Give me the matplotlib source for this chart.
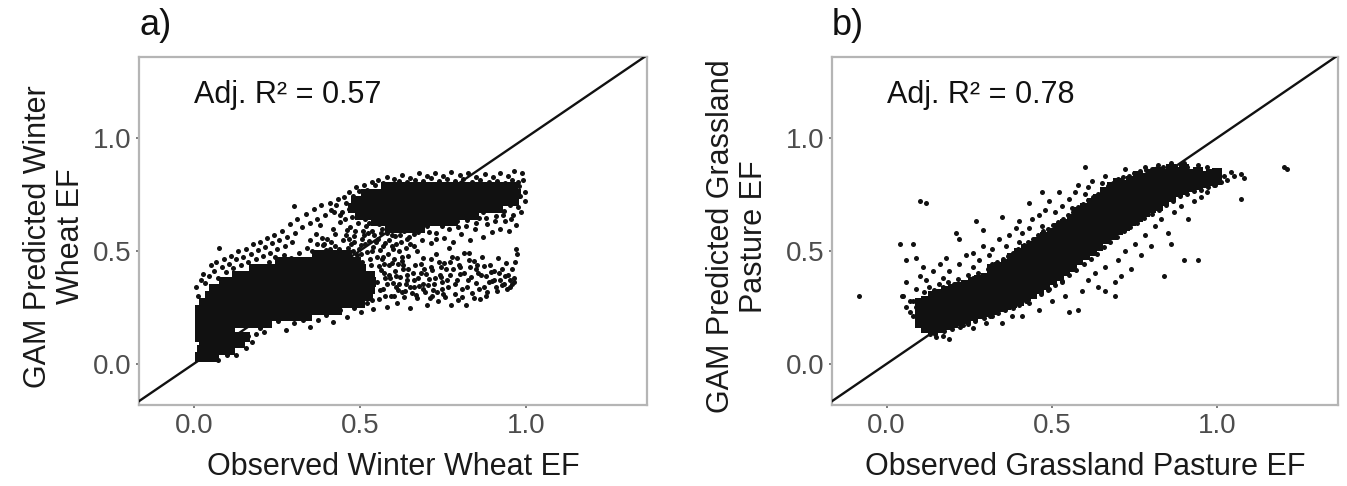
import matplotlib
matplotlib.use("Agg")
import matplotlib.pyplot as plt
import numpy as np

plt.rcParams['font.family'] = ['Liberation Sans', 'DejaVu Sans']

# ---- data (observed EF, GAM predicted EF) ----
# dense parts of the clouds, one row of observed values per predicted level
wheat_core_rows = [
    (0.03, [0.02, 0.04, 0.06]),
    (0.06, [0.025, 0.045, 0.07, 0.09, 0.11]),
    (0.09, [0.03, 0.055, 0.075, 0.10, 0.12, 0.14]),
    (0.12, [0.02, 0.04, 0.065, 0.09, 0.11, 0.135, 0.155]),
    (0.15, [0.02, 0.045, 0.065, 0.085, 0.11]),
    (0.18, [0.02, 0.04, 0.06, 0.085, 0.11, 0.13, 0.15, 0.175, 0.20, 0.22]),
    (0.21, [0.02, 0.04, 0.065, 0.09, 0.11, 0.13, 0.155, 0.18, 0.20, 0.22, 0.245,
            0.27, 0.29, 0.315, 0.34]),
    (0.24, [0.02, 0.045, 0.07, 0.09, 0.11, 0.135, 0.16, 0.18, 0.20, 0.225, 0.25,
            0.27, 0.29, 0.315, 0.34, 0.36, 0.38, 0.405, 0.43]),
    (0.27, [0.03, 0.05, 0.075, 0.10, 0.12, 0.14, 0.165, 0.19, 0.21, 0.23, 0.255,
            0.28, 0.30, 0.32, 0.345, 0.37, 0.39, 0.41, 0.435, 0.46, 0.48, 0.50]),
    (0.30, [0.05, 0.07, 0.095, 0.12, 0.14, 0.16, 0.185, 0.21, 0.23, 0.25, 0.275,
            0.30, 0.32, 0.34, 0.365, 0.39, 0.41, 0.43, 0.455, 0.48, 0.50, 0.525]),
    (0.33, [0.06, 0.085, 0.11, 0.13, 0.155, 0.18, 0.205, 0.23, 0.25, 0.27, 0.295,
            0.32, 0.34, 0.36, 0.385, 0.41, 0.43, 0.45, 0.475, 0.50, 0.53]),
    (0.36, [0.09, 0.115, 0.14, 0.165, 0.19, 0.21, 0.235, 0.26, 0.28, 0.30, 0.325,
            0.35, 0.37, 0.39, 0.415, 0.44, 0.46, 0.485, 0.51, 0.535]),
    (0.39, [0.13, 0.155, 0.18, 0.205, 0.23, 0.25, 0.275, 0.30, 0.32, 0.34, 0.365,
            0.39, 0.41, 0.435, 0.46, 0.485, 0.51, 0.53]),
    (0.42, [0.18, 0.205, 0.23, 0.25, 0.27, 0.29, 0.315, 0.34, 0.36, 0.385, 0.41,
            0.435, 0.46, 0.48, 0.505]),
    (0.45, [0.26, 0.29, 0.315, 0.34, 0.365, 0.39, 0.415, 0.44, 0.465, 0.49]),
    (0.48, [0.37, 0.40, 0.43, 0.46]),
    (0.60, [0.59, 0.62, 0.65, 0.68]),
    (0.63, [0.55, 0.575, 0.60, 0.625, 0.65, 0.675, 0.70, 0.725, 0.75, 0.78]),
    (0.66, [0.50, 0.525, 0.55, 0.57, 0.59, 0.615, 0.64, 0.66, 0.68, 0.705,
            0.73, 0.75, 0.77, 0.795, 0.82, 0.845]),
    (0.69, [0.48, 0.505, 0.53, 0.55, 0.57, 0.595, 0.62, 0.64, 0.66, 0.685,
            0.71, 0.73, 0.75, 0.775, 0.80, 0.82, 0.84, 0.865, 0.89, 0.915]),
    (0.72, [0.49, 0.515, 0.54, 0.56, 0.58, 0.605, 0.63, 0.65, 0.67, 0.695,
            0.72, 0.74, 0.76, 0.785, 0.81, 0.83, 0.85, 0.875, 0.90, 0.92, 0.945, 0.965]),
    (0.75, [0.52, 0.545, 0.57, 0.59, 0.61, 0.635, 0.66, 0.68, 0.70, 0.725,
            0.75, 0.77, 0.79, 0.815, 0.84, 0.86, 0.88, 0.905, 0.93, 0.95, 0.97]),
    (0.78, [0.58, 0.605, 0.63, 0.65, 0.67, 0.695, 0.72, 0.74, 0.765,
            0.79, 0.81, 0.835, 0.86, 0.885, 0.91, 0.935, 0.96]),
]

wheat_sparse = [
    # upper fringe of the lower cloud
    (0.008, 0.342), (0.013, 0.301), (0.021, 0.372), (0.029, 0.398), (0.034, 0.356),
    (0.047, 0.387), (0.052, 0.436), (0.061, 0.409), (0.068, 0.452), (0.073, 0.381),
    (0.076, 0.512), (0.084, 0.428), (0.092, 0.463), (0.097, 0.404), (0.106, 0.441),
    (0.113, 0.479), (0.118, 0.422), (0.127, 0.462), (0.133, 0.498), (0.141, 0.437),
    (0.148, 0.474), (0.156, 0.509), (0.162, 0.451), (0.171, 0.487), (0.177, 0.528),
    (0.186, 0.463), (0.193, 0.503), (0.199, 0.541), (0.208, 0.478), (0.214, 0.518),
    (0.222, 0.556), (0.229, 0.492), (0.236, 0.533), (0.243, 0.571), (0.251, 0.507),
    (0.258, 0.548), (0.266, 0.589), (0.274, 0.521), (0.281, 0.562), (0.289, 0.618),
    (0.296, 0.537), (0.304, 0.577), (0.301, 0.696), (0.312, 0.641), (0.327, 0.603),
    (0.338, 0.662), (0.349, 0.621), (0.362, 0.684), (0.371, 0.642), (0.384, 0.703),
    (0.396, 0.658), (0.409, 0.713), (0.421, 0.672), (0.433, 0.728),
    (0.317, 0.492), (0.342, 0.511), (0.366, 0.483), (0.388, 0.527), (0.411, 0.508),
    (0.246, 0.472), (0.271, 0.481), (0.292, 0.468), (0.226, 0.451),
    # bridge between the two clouds
    (0.452, 0.463), (0.458, 0.571), (0.463, 0.512), (0.471, 0.604), (0.474, 0.447),
    (0.482, 0.538), (0.487, 0.588), (0.491, 0.481), (0.496, 0.624), (0.503, 0.527),
    (0.507, 0.452), (0.512, 0.571), (0.518, 0.609), (0.521, 0.494), (0.527, 0.543),
    (0.533, 0.437), (0.536, 0.587), (0.541, 0.516), (0.547, 0.631), (0.552, 0.472),
    (0.556, 0.553), (0.561, 0.503), (0.566, 0.598), (0.572, 0.441), (0.575, 0.534),
    (0.581, 0.577), (0.586, 0.486), (0.592, 0.616), (0.597, 0.523), (0.603, 0.462),
    (0.607, 0.566), (0.612, 0.602), (0.618, 0.497), (0.623, 0.541), (0.629, 0.435),
    (0.634, 0.586), (0.638, 0.514), (0.645, 0.476), (0.649, 0.559), (0.653, 0.601),
    (0.402, 0.551), (0.418, 0.597), (0.426, 0.523), (0.439, 0.628), (0.447, 0.671),
    (0.367, 0.573), (0.381, 0.612), (0.392, 0.531), (0.351, 0.548), (0.455, 0.642),
    (0.468, 0.553), (0.479, 0.501), (0.509, 0.588), (0.529, 0.624), (0.544, 0.568),
    (0.558, 0.617), (0.569, 0.474), (0.589, 0.547), (0.601, 0.508), (0.621, 0.572),
    (0.356, 0.497), (0.372, 0.528), (0.386, 0.556), (0.397, 0.502), (0.413, 0.541),
    (0.424, 0.574), (0.436, 0.509), (0.448, 0.548), (0.461, 0.593), (0.473, 0.529),
    (0.484, 0.566), (0.497, 0.508), (0.506, 0.552), (0.517, 0.531), (0.524, 0.578),
    (0.538, 0.498), (0.549, 0.541), (0.563, 0.578), (0.571, 0.519), (0.584, 0.603),
    (0.596, 0.571), (0.609, 0.532), (0.617, 0.627), (0.628, 0.598), (0.641, 0.551),
    (0.652, 0.532), (0.626, 0.474), (0.597, 0.446), (0.559, 0.432), (0.532, 0.462),
    (0.505, 0.486), (0.486, 0.462), (0.459, 0.487), (0.428, 0.492),
    # lower right, spreading out
    (0.553, 0.362), (0.559, 0.286), (0.564, 0.413), (0.571, 0.331), (0.577, 0.379),
    (0.583, 0.251), (0.588, 0.436), (0.594, 0.302), (0.599, 0.356), (0.605, 0.412),
    (0.611, 0.268), (0.616, 0.327), (0.622, 0.384), (0.627, 0.457), (0.633, 0.296),
    (0.639, 0.351), (0.644, 0.418), (0.651, 0.246), (0.656, 0.313), (0.662, 0.372),
    (0.667, 0.437), (0.673, 0.289), (0.678, 0.346), (0.684, 0.403), (0.689, 0.468),
    (0.695, 0.318), (0.702, 0.262), (0.707, 0.374), (0.713, 0.427), (0.718, 0.301),
    (0.724, 0.352), (0.731, 0.486), (0.736, 0.276), (0.741, 0.392), (0.747, 0.331),
    (0.753, 0.446), (0.758, 0.297), (0.764, 0.371), (0.769, 0.514), (0.775, 0.258),
    (0.781, 0.418), (0.786, 0.352), (0.792, 0.467), (0.797, 0.284), (0.803, 0.396),
    (0.809, 0.333), (0.814, 0.488), (0.821, 0.261), (0.826, 0.372), (0.832, 0.429),
    (0.838, 0.312), (0.843, 0.457), (0.849, 0.357), (0.856, 0.401), (0.862, 0.288),
    (0.867, 0.473), (0.873, 0.341), (0.879, 0.387), (0.884, 0.318), (0.891, 0.436),
    (0.897, 0.367), (0.903, 0.412), (0.909, 0.339), (0.916, 0.468), (0.922, 0.371),
    (0.928, 0.418), (0.934, 0.352), (0.941, 0.447), (0.947, 0.392), (0.953, 0.339),
    (0.958, 0.421), (0.963, 0.381), (0.966, 0.362), (0.971, 0.508), (0.974, 0.486),
    (0.968, 0.452), (0.566, 0.462), (0.587, 0.391), (0.614, 0.443), (0.642, 0.392),
    (0.671, 0.497), (0.693, 0.421), (0.716, 0.462), (0.744, 0.427), (0.772, 0.451),
    (0.799, 0.437), (0.829, 0.489), (0.852, 0.437), (0.577, 0.302), (0.608, 0.341),
    (0.636, 0.321), (0.664, 0.341), (0.691, 0.353), (0.721, 0.327), (0.749, 0.363),
    (0.561, 0.327), (0.572, 0.402), (0.581, 0.352), (0.592, 0.381), (0.603, 0.298),
    (0.609, 0.387), (0.618, 0.352), (0.626, 0.318), (0.631, 0.421), (0.643, 0.372),
    (0.652, 0.339), (0.659, 0.402), (0.668, 0.306), (0.676, 0.381), (0.683, 0.441),
    (0.691, 0.332), (0.698, 0.398), (0.706, 0.349), (0.712, 0.291), (0.719, 0.413),
    (0.727, 0.378), (0.733, 0.318), (0.739, 0.452), (0.746, 0.386), (0.752, 0.307),
    (0.759, 0.421), (0.766, 0.338), (0.773, 0.392), (0.779, 0.471), (0.787, 0.311),
    (0.794, 0.369), (0.801, 0.428), (0.808, 0.297), (0.815, 0.402), (0.822, 0.341),
    (0.829, 0.461), (0.836, 0.382), (0.844, 0.291), (0.851, 0.418), (0.858, 0.331),
    (0.866, 0.392), (0.874, 0.432), (0.881, 0.298), (0.888, 0.361), (0.896, 0.408),
    (0.904, 0.372), (0.912, 0.321), (0.919, 0.401), (0.927, 0.347), (0.936, 0.389),
    (0.944, 0.331), (0.951, 0.372), (0.959, 0.351),
    # between the upper cloud and the lower right
    (0.662, 0.522), (0.676, 0.583), (0.688, 0.547), (0.703, 0.611), (0.716, 0.534),
    (0.729, 0.578), (0.742, 0.621), (0.755, 0.556), (0.768, 0.598), (0.782, 0.537),
    (0.794, 0.632), (0.806, 0.574), (0.819, 0.611), (0.833, 0.548), (0.846, 0.596),
    (0.858, 0.643), (0.871, 0.561), (0.884, 0.617), (0.897, 0.582), (0.909, 0.655),
    (0.921, 0.597), (0.936, 0.631), (0.948, 0.588), (0.961, 0.657), (0.972, 0.612),
    (0.872, 0.671), (0.903, 0.684), (0.934, 0.676), (0.952, 0.702), (0.978, 0.693),
    (0.747, 0.611), (0.771, 0.631), (0.797, 0.603), (0.823, 0.638), (0.851, 0.621),
    (0.879, 0.646), (0.907, 0.632), (0.931, 0.658), (0.956, 0.641), (0.683, 0.597),
    (0.708, 0.582), (0.731, 0.553), (0.692, 0.621), (0.664, 0.574),
    # lower edge of the lower cloud and the strip along the 1:1 line
    (0.198, 0.157), (0.226, 0.171), (0.254, 0.188), (0.279, 0.149), (0.302, 0.181),
    (0.328, 0.196), (0.351, 0.162), (0.373, 0.192), (0.397, 0.216), (0.418, 0.183),
    (0.441, 0.236), (0.462, 0.207), (0.483, 0.246), (0.504, 0.229), (0.523, 0.268),
    (0.541, 0.241), (0.128, 0.041), (0.157, 0.068), (0.176, 0.097), (0.072, 0.018),
    (0.101, 0.037), (0.164, 0.123), (0.187, 0.132), (0.212, 0.141), (0.452, 0.262),
    (0.471, 0.277), (0.497, 0.262), (0.512, 0.301), (0.536, 0.282),
    # top edge of the upper cloud and the column near 1.0
    (0.452, 0.738), (0.467, 0.762), (0.488, 0.781), (0.512, 0.792), (0.537, 0.806),
    (0.556, 0.814), (0.581, 0.826), (0.603, 0.817), (0.628, 0.834), (0.652, 0.822),
    (0.678, 0.846), (0.703, 0.831), (0.727, 0.843), (0.752, 0.829), (0.776, 0.848),
    (0.801, 0.834), (0.826, 0.846), (0.851, 0.828), (0.876, 0.841), (0.902, 0.826),
    (0.921, 0.843), (0.946, 0.831), (0.963, 0.852), (0.988, 0.846), (0.992, 0.812),
    (0.981, 0.787), (0.997, 0.762), (0.984, 0.741), (0.998, 0.718), (0.987, 0.672),
    (0.964, 0.762), (0.958, 0.728), (0.515, 0.642), (0.531, 0.661), (0.478, 0.648),
    (0.412, 0.682), (0.428, 0.703), (0.441, 0.659), (0.457, 0.711), (0.469, 0.683),
    (0.481, 0.742), (0.497, 0.764), (0.523, 0.771), (0.547, 0.789), (0.569, 0.801),
    (0.592, 0.796), (0.617, 0.809), (0.641, 0.803), (0.665, 0.812), (0.691, 0.807),
    (0.714, 0.821), (0.739, 0.808), (0.762, 0.816), (0.787, 0.808), (0.812, 0.819),
    (0.838, 0.806), (0.862, 0.811), (0.889, 0.802), (0.913, 0.809), (0.938, 0.801),
    (0.957, 0.812), (0.976, 0.803),
]

# grassland: dense band, one column of predicted values per observed level
grass_core_cols = [
    (0.10, [0.18, 0.21, 0.24, 0.27]),
    (0.12, [0.16, 0.19, 0.22, 0.25, 0.28]),
    (0.14, [0.15, 0.18, 0.21, 0.24, 0.27, 0.30]),
    (0.16, [0.16, 0.19, 0.22, 0.25, 0.28, 0.31]),
    (0.18, [0.17, 0.20, 0.23, 0.26, 0.29, 0.32]),
    (0.20, [0.18, 0.21, 0.24, 0.27, 0.30, 0.33]),
    (0.22, [0.19, 0.22, 0.25, 0.28, 0.31, 0.34]),
    (0.24, [0.20, 0.23, 0.26, 0.29, 0.32, 0.35]),
    (0.26, [0.21, 0.24, 0.27, 0.30, 0.33, 0.36]),
    (0.28, [0.22, 0.25, 0.28, 0.31, 0.34, 0.37]),
    (0.30, [0.23, 0.26, 0.29, 0.32, 0.35, 0.38]),
    (0.32, [0.24, 0.27, 0.30, 0.33, 0.36, 0.39, 0.42]),
    (0.34, [0.25, 0.28, 0.31, 0.34, 0.37, 0.40, 0.43]),
    (0.36, [0.26, 0.29, 0.32, 0.35, 0.38, 0.41, 0.44]),
    (0.38, [0.27, 0.30, 0.33, 0.36, 0.39, 0.42, 0.45, 0.47]),
    (0.40, [0.28, 0.31, 0.34, 0.37, 0.40, 0.43, 0.46, 0.49]),
    (0.42, [0.30, 0.33, 0.36, 0.39, 0.42, 0.45, 0.48, 0.51]),
    (0.44, [0.31, 0.34, 0.37, 0.40, 0.43, 0.46, 0.49, 0.52]),
    (0.46, [0.33, 0.36, 0.39, 0.42, 0.45, 0.48, 0.51, 0.54]),
    (0.48, [0.35, 0.38, 0.41, 0.44, 0.47, 0.50, 0.53, 0.56]),
    (0.50, [0.37, 0.40, 0.43, 0.46, 0.49, 0.52, 0.55, 0.58]),
    (0.52, [0.39, 0.42, 0.45, 0.48, 0.51, 0.54, 0.57, 0.60]),
    (0.54, [0.41, 0.44, 0.47, 0.50, 0.53, 0.56, 0.59, 0.62]),
    (0.56, [0.43, 0.46, 0.49, 0.52, 0.55, 0.58, 0.61, 0.64]),
    (0.58, [0.46, 0.49, 0.52, 0.55, 0.58, 0.61, 0.64, 0.67]),
    (0.60, [0.48, 0.51, 0.54, 0.57, 0.60, 0.63, 0.66, 0.69]),
    (0.62, [0.50, 0.53, 0.56, 0.59, 0.62, 0.65, 0.68, 0.71]),
    (0.64, [0.52, 0.55, 0.58, 0.61, 0.64, 0.67, 0.70, 0.73]),
    (0.66, [0.55, 0.58, 0.61, 0.64, 0.67, 0.70, 0.73, 0.76]),
    (0.68, [0.57, 0.60, 0.63, 0.66, 0.69, 0.72, 0.75, 0.78]),
    (0.70, [0.59, 0.62, 0.65, 0.68, 0.71, 0.74, 0.77, 0.80]),
    (0.72, [0.61, 0.64, 0.67, 0.70, 0.73, 0.76, 0.79]),
    (0.74, [0.63, 0.66, 0.69, 0.72, 0.75, 0.78, 0.81]),
    (0.76, [0.65, 0.68, 0.71, 0.74, 0.77, 0.80, 0.83]),
    (0.78, [0.67, 0.70, 0.73, 0.76, 0.79, 0.82]),
    (0.80, [0.69, 0.72, 0.75, 0.78, 0.81, 0.84]),
    (0.82, [0.70, 0.73, 0.76, 0.79, 0.82, 0.85]),
    (0.84, [0.72, 0.75, 0.78, 0.81, 0.84]),
    (0.86, [0.74, 0.77, 0.80, 0.83, 0.86]),
    (0.88, [0.76, 0.79, 0.82, 0.85]),
    (0.90, [0.77, 0.80, 0.83, 0.86]),
    (0.92, [0.78, 0.81, 0.84]),
    (0.94, [0.79, 0.82, 0.85]),
    (0.96, [0.80, 0.83]),
    (0.98, [0.81, 0.84]),
    (1.00, [0.815, 0.845]),
]

grass_sparse = [
    # upper-left side of the band
    (0.112, 0.318), (0.127, 0.341), (0.143, 0.327), (0.158, 0.352), (0.171, 0.339),
    (0.186, 0.362), (0.203, 0.351), (0.217, 0.376), (0.232, 0.362), (0.246, 0.391),
    (0.262, 0.378), (0.276, 0.402), (0.291, 0.395), (0.307, 0.418), (0.318, 0.441),
    (0.333, 0.452), (0.351, 0.462), (0.366, 0.476), (0.381, 0.489), (0.398, 0.508),
    (0.414, 0.524), (0.428, 0.541), (0.443, 0.553), (0.457, 0.572), (0.472, 0.586),
    (0.488, 0.598), (0.503, 0.612), (0.518, 0.627), (0.534, 0.641), (0.548, 0.658),
    (0.563, 0.671), (0.578, 0.692), (0.594, 0.707), (0.608, 0.724), (0.623, 0.738),
    (0.639, 0.752), (0.653, 0.771), (0.669, 0.788), (0.684, 0.801), (0.699, 0.816),
    (0.716, 0.828), (0.733, 0.831), (0.748, 0.842), (0.766, 0.851), (0.783, 0.857),
    (0.801, 0.862), (0.818, 0.868), (0.836, 0.872), (0.853, 0.877), (0.871, 0.874),
    (0.889, 0.878), (0.907, 0.871),
    (0.05, 0.30), (0.07, 0.23), (0.06, 0.36), (0.08, 0.28), (0.09, 0.33), (0.10, 0.39),
    (0.11, 0.43), (0.12, 0.37), (0.14, 0.41), (0.16, 0.44), (0.17, 0.38), (0.18, 0.47),
    (0.19, 0.41), (0.21, 0.58), (0.22, 0.55), (0.22, 0.44), (0.24, 0.48), (0.26, 0.49),
    (0.26, 0.43), (0.27, 0.63), (0.28, 0.46), (0.29, 0.59), (0.29, 0.52), (0.31, 0.48),
    (0.32, 0.51), (0.34, 0.55), (0.35, 0.65), (0.36, 0.52), (0.37, 0.57), (0.39, 0.60),
    (0.40, 0.63), (0.40, 0.54), (0.41, 0.58), (0.43, 0.71), (0.43, 0.60), (0.44, 0.64),
    (0.46, 0.66), (0.47, 0.76), (0.47, 0.61), (0.48, 0.68), (0.49, 0.72), (0.51, 0.67),
    (0.52, 0.76), (0.53, 0.70), (0.55, 0.73), (0.56, 0.69), (0.57, 0.76), (0.58, 0.79),
    (0.60, 0.75), (0.60, 0.87), (0.61, 0.78), (0.62, 0.81), (0.65, 0.80), (0.66, 0.83),
    (0.72, 0.86), (0.78, 0.87), (0.82, 0.88), (0.86, 0.89), (0.90, 0.89), (0.94, 0.88),
    (0.97, 0.87),
    (0.06, 0.25), (0.07, 0.28), (0.08, 0.21), (0.09, 0.25),
    # lower-right side of the band
    (0.118, 0.148), (0.146, 0.131), (0.172, 0.143), (0.198, 0.152), (0.221, 0.163),
    (0.247, 0.178), (0.268, 0.188), (0.294, 0.201), (0.313, 0.213), (0.338, 0.226),
    (0.357, 0.238), (0.382, 0.247), (0.401, 0.262), (0.422, 0.278), (0.447, 0.298),
    (0.467, 0.311), (0.489, 0.328), (0.508, 0.347), (0.531, 0.367), (0.552, 0.392),
    (0.574, 0.413), (0.596, 0.441), (0.618, 0.462), (0.637, 0.487), (0.658, 0.516),
    (0.676, 0.539), (0.697, 0.561), (0.718, 0.587), (0.737, 0.604), (0.758, 0.622),
    (0.779, 0.643), (0.801, 0.662), (0.822, 0.681), (0.844, 0.703), (0.866, 0.722),
    (0.887, 0.741), (0.908, 0.752), (0.929, 0.763), (0.951, 0.771), (0.973, 0.784),
    (0.994, 0.792), (1.012, 0.806), (1.028, 0.814),
    (0.13, 0.13), (0.15, 0.12), (0.17, 0.125), (0.19, 0.11), (0.23, 0.17), (0.26, 0.16),
    (0.30, 0.18), (0.32, 0.21), (0.35, 0.18), (0.38, 0.21), (0.41, 0.21), (0.43, 0.27),
    (0.46, 0.24), (0.49, 0.33), (0.50, 0.28), (0.53, 0.36), (0.54, 0.30), (0.55, 0.23),
    (0.58, 0.24), (0.59, 0.32), (0.61, 0.37), (0.63, 0.40), (0.64, 0.34), (0.66, 0.32),
    (0.66, 0.43), (0.69, 0.30), (0.69, 0.36), (0.70, 0.46), (0.71, 0.39), (0.72, 0.50),
    (0.74, 0.42), (0.75, 0.53), (0.77, 0.48), (0.78, 0.57), (0.80, 0.52), (0.81, 0.61),
    (0.83, 0.64), (0.84, 0.39), (0.85, 0.58), (0.86, 0.53), (0.87, 0.67), (0.89, 0.70),
    (0.90, 0.46), (0.91, 0.64), (0.93, 0.72), (0.94, 0.46), (0.95, 0.74), (0.97, 0.76),
    (0.99, 0.79), (1.02, 0.83), (1.04, 0.85), (1.05, 0.83), (1.07, 0.84), (1.08, 0.82),
    (1.07, 0.73),
    # isolated points
    (1.20, 0.87), (1.21, 0.86), (-0.085, 0.30), (0.10, 0.72), (0.12, 0.71),
    (0.04, 0.53), (0.08, 0.53), (0.06, 0.46), (0.09, 0.47), (0.046, 0.30),
]

r2_values = ['0.57', '0.78']
panel_tags = ['a)', 'b)']
x_titles = ['Observed Winter Wheat EF', 'Observed Grassland Pasture EF']
y_titles = ['GAM Predicted Winter\nWheat EF', 'GAM Predicted Grassland\nPasture EF']
tick_vals = [0.0, 0.5, 1.0]
tick_labels = ['0.0', '0.5', '1.0']


def rows_to_xy(rows):
    xs, ys = [], []
    for yv, xlist in rows:
        xs += xlist
        ys += [yv] * len(xlist)
    return np.array(xs), np.array(ys)


def cols_to_xy(cols):
    xs, ys = [], []
    for xv, ylist in cols:
        xs += [xv] * len(ylist)
        ys += ylist
    return np.array(xs), np.array(ys)


fig = plt.figure(figsize=(13.47, 4.86), dpi=100)
ax_a = fig.add_axes([0.1032, 0.1667, 0.3771, 0.7160])
ax_b = fig.add_axes([0.6177, 0.1667, 0.3757, 0.7160])

panels = [
    (ax_a, rows_to_xy(wheat_core_rows), np.array(wheat_sparse), -0.105),
    (ax_b, cols_to_xy(grass_core_cols), np.array(grass_sparse), -0.125),
]

for i, (ax, core, sparse, ylab_x) in enumerate(panels):
    ax.scatter(core[0], core[1], s=44, marker='s', color='#111111', linewidths=0, zorder=2)
    ax.scatter(sparse[:, 0], sparse[:, 1], s=13, marker='o', color='#111111',
               linewidths=0, zorder=2)
    ax.axline((0, 0), slope=1, color='#111111', lw=1.7, zorder=3)

    ax.set_xlim(-0.165, 1.365)
    ax.set_ylim(-0.182, 1.357)
    ax.set_xticks(tick_vals)
    ax.set_xticklabels(tick_labels)
    ax.set_yticks(tick_vals)
    ax.set_yticklabels(tick_labels)
    ax.tick_params(length=2.5, width=1.2, color='#666666', labelsize=20,
                   labelcolor='#4d4d4d', pad=3)
    for sp in ax.spines.values():
        sp.set_color('#b5b5b5')
        sp.set_linewidth(1.6)

    ax.text(0.0, 1.19, 'Adj. R² = ' + r2_values[i], fontsize=22, ha='left', va='center',
            color='#111111')
    ax.set_xlabel(x_titles[i], fontsize=22, color='#1a1a1a')
    ax.xaxis.set_label_coords(0.5, -0.135)
    ax.set_ylabel(y_titles[i], fontsize=22, color='#1a1a1a', linespacing=1.1)
    ax.yaxis.set_label_coords(ylab_x, 0.484)
    ax.text(0.0, 1.04, panel_tags[i], transform=ax.transAxes, fontsize=26,
            ha='left', va='bottom', color='#111111')

fig.savefig('out.png', dpi=100)
